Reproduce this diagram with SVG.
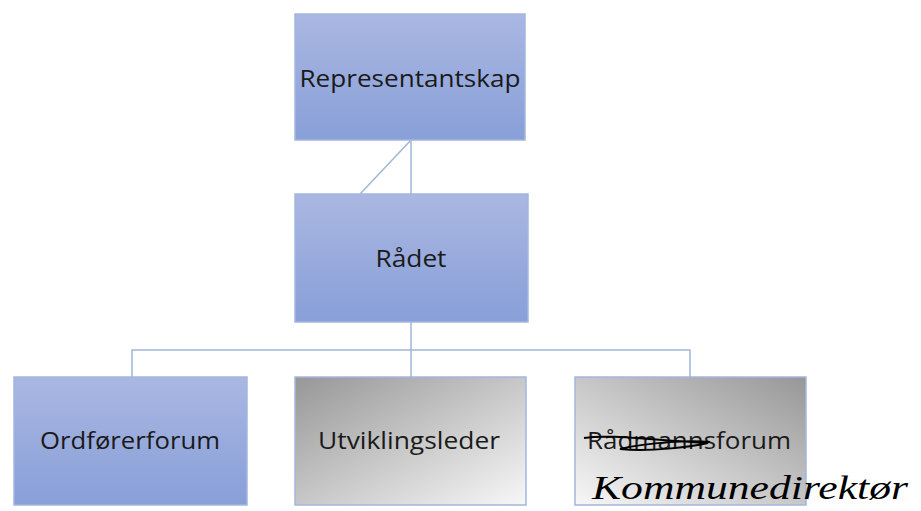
<svg xmlns="http://www.w3.org/2000/svg" width="921" height="511" viewBox="0 0 921 511">
<defs>
<linearGradient id="blue" x1="0" y1="0" x2="0" y2="1">
<stop offset="0" stop-color="#aab7e2"/>
<stop offset="1" stop-color="#889fd8"/>
</linearGradient>
<linearGradient id="grayA" x1="0" y1="0" x2="1" y2="1">
<stop offset="0" stop-color="#979797"/>
<stop offset="1" stop-color="#f7f7f7"/>
</linearGradient>
<linearGradient id="grayB" x1="1" y1="0" x2="0" y2="1">
<stop offset="0" stop-color="#979797"/>
<stop offset="1" stop-color="#f7f7f7"/>
</linearGradient>
</defs>
<style>
.box{stroke:#a3b6df;stroke-width:1.5}
.lbl{font-family:"Open Sans","Liberation Sans",sans-serif;font-size:24px;fill:#1a1a1a;text-anchor:middle}
.con{stroke:#9fb6d8;stroke-width:1.5;fill:none}
</style>
<rect width="921" height="511" fill="#ffffff"/>
<g id="connectors">
<line class="con" x1="411" y1="140" x2="411" y2="194"/>
<line class="con" x1="411" y1="140" x2="360" y2="194"/>
<line class="con" x1="411" y1="322" x2="411" y2="377"/>
<polyline class="con" points="132,377 132,350 690,350 690,377"/>
</g>
<g id="representantskap">
<rect class="box" x="295" y="14" width="230" height="126" fill="url(#blue)"/>
<text class="lbl" x="410" y="87" textLength="221" lengthAdjust="spacingAndGlyphs">Representantskap</text>
</g>
<g id="radet">
<rect class="box" x="295" y="194" width="233" height="128" fill="url(#blue)"/>
<text class="lbl" x="411" y="267" textLength="71" lengthAdjust="spacingAndGlyphs">Rådet</text>
</g>
<g id="ordforerforum">
<rect class="box" x="14" y="377" width="233" height="128" fill="url(#blue)"/>
<text class="lbl" x="130" y="449" textLength="180" lengthAdjust="spacingAndGlyphs">Ordførerforum</text>
</g>
<g id="utviklingsleder">
<rect class="box" x="295" y="377" width="231" height="128" fill="url(#grayA)"/>
<text class="lbl" x="409" y="449" textLength="182" lengthAdjust="spacingAndGlyphs">Utviklingsleder</text>
</g>
<g id="radmannsforum">
<rect class="box" x="575" y="377" width="231" height="128" fill="url(#grayB)"/>
<text class="lbl" x="689" y="449" textLength="204" lengthAdjust="spacingAndGlyphs">Rådmannsforum</text>
<path d="M584,438 C610,434 650,440 708,443 C690,447 650,452 620,449 C650,442 690,440 710,442" fill="none" stroke="#000" stroke-width="2"/>
<text x="592" y="499" font-family="'Liberation Serif',serif" font-style="italic" font-size="34" fill="#000" textLength="316" lengthAdjust="spacingAndGlyphs">Kommunedirektør</text>
</g>
</svg>
